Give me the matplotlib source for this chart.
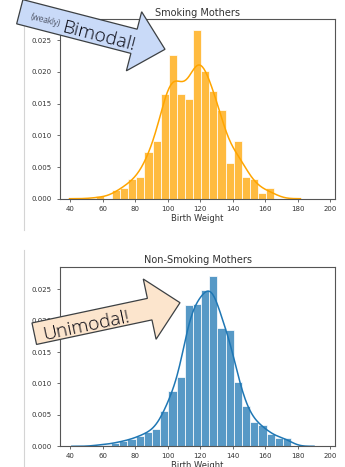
import numpy as np
import matplotlib
matplotlib.use('Agg')
import matplotlib.pyplot as plt
from matplotlib.patches import Polygon
from matplotlib.lines import Line2D
from matplotlib.transforms import Affine2D

# Birth weight histograms: first bin edge, bin width and counts per bin
smoke_start = 55.6
smoke_width = 5.0
smoke_counts = [1, 0, 3, 4, 7, 8, 17, 21, 38, 52, 38, 36, 61, 46, 39, 32,
                13, 21, 8, 7, 2, 4]

nonsmoke_start = 55.0
nonsmoke_width = 5.04
nonsmoke_counts = [1, 1, 2, 3, 4, 6, 8, 10, 20, 32, 40, 81, 82, 90, 98, 68,
                   67, 37, 23, 14, 12, 7, 5, 5]

titles = ['Smoking Mothers', 'Non-Smoking Mothers']
colors = ['orange', '#1f77b4']
xticks = [40, 60, 80, 100, 120, 140, 160, 180, 200]
yticks = [0.000, 0.005, 0.010, 0.015, 0.020, 0.025]

W, H, DPI = 345, 467, 100
fig = plt.figure(figsize=(W / DPI, H / DPI), dpi=DPI)
# pixel coordinates measured from the top-left corner
pix = Affine2D().scale(1 / DPI, -1 / DPI).translate(0, H / DPI) + fig.dpi_scale_trans


def kde_curve(edges, counts):
    centers = (edges[:-1] + edges[1:]) / 2
    w = np.asarray(counts, float)
    n = w.sum()
    mean = np.average(centers, weights=w)
    std = np.sqrt(np.average((centers - mean) ** 2, weights=w))
    bw = std * n ** (-1 / 5)
    xs = np.linspace(edges[0] - 3 * bw, edges[-1] + 3 * bw, 300)
    k = np.exp(-0.5 * ((xs[None, :] - centers[:, None]) / bw) ** 2)
    ys = (w[:, None] * k).sum(0) / (n * bw * np.sqrt(2 * np.pi))
    return xs, ys


def block_arrow(tip, angle, length, body_w, head_w, head_len):
    a = np.deg2rad(angle)
    d = np.array([np.cos(a), np.sin(a)])
    nrm = np.array([-d[1], d[0]])
    tip = np.array(tip, float)
    base = tip - d * head_len
    tail = tip - d * length
    return np.array([tail + nrm * body_w / 2, base + nrm * body_w / 2,
                     base + nrm * head_w / 2, tip,
                     base - nrm * head_w / 2, base - nrm * body_w / 2,
                     tail - nrm * body_w / 2])


panels = [
    (smoke_start, smoke_width, smoke_counts, 0.02835, [60.3 / W, 1 - 198.7 / H]),
    (nonsmoke_start, nonsmoke_width, nonsmoke_counts, 0.0286, [60.3 / W, 1 - 446.3 / H]),
]

for i, (start, width, counts, ytop, (left, bottom)) in enumerate(panels):
    ax = fig.add_axes([left, bottom, 274.7 / W, 179.7 / H])
    edges = start + width * np.arange(len(counts) + 1)
    centers = (edges[:-1] + edges[1:]) / 2
    ax.hist(centers, bins=edges, weights=counts, density=True,
            color=colors[i], alpha=0.75, edgecolor='white', linewidth=0.7)
    xs, ys = kde_curve(edges, counts)
    ax.plot(xs, ys, color=colors[i], lw=1.1)

    ax.set_xlim(33.8, 203)
    ax.set_ylim(0, ytop)
    ax.set_xticks(xticks)
    ax.set_yticks(yticks)
    ax.set_yticklabels([f'{v:.3f}' for v in yticks])
    ax.tick_params(labelsize=5, length=2.5, width=0.6, color='#555555',
                   labelcolor='#333333')
    ax.tick_params(axis='x', pad=2.5)
    ax.tick_params(axis='y', pad=3.5)
    for s in ax.spines.values():
        s.set_color('#555555')
        s.set_linewidth(0.8)
    ax.set_title(titles[i], fontsize=7, color='#333333', pad=2.5)
    ax.set_xlabel('Birth Weight', fontsize=6, color='#333333', labelpad=1.5)

# notebook cell borders on the left
fig.add_artist(Line2D([23.5, 23.5], [0, 230], transform=pix,
                      color='#d4d4d4', lw=0.8))
fig.add_artist(Line2D([23.5, 23.5], [250, 467], transform=pix,
                      color='#d4d4d4', lw=0.8))

# callout arrows
top_arrow = Polygon(block_arrow((165, 49.3), 14.5, 150, 25, 61, 32),
                    closed=True, transform=pix, facecolor='#c9daf8',
                    edgecolor='#3c4043', lw=0.9, zorder=10)
fig.add_artist(top_arrow)
bottom_arrow = Polygon(block_arrow((180, 302.7), -12, 149, 22, 61.6, 31),
                       closed=True, transform=pix, facecolor='#fce5cd',
                       edgecolor='#3c4043', lw=0.9, zorder=10)
fig.add_artist(bottom_arrow)

txt = dict(transform=pix, ha='center', va='center', rotation_mode='anchor',
           color='#05050f', family=['Open Sans', 'DejaVu Sans'], weight=300,
           zorder=11)
fig.text(45, 20.3, '(weakly)', fontsize=6.2, rotation=-14.5, **txt)
fig.text(98.3, 36.7, 'Bimodal!', fontsize=13.8, rotation=-14.5, **txt)
fig.text(86.7, 325.7, 'Unimodal!', fontsize=13.8, rotation=12, **txt)

fig.savefig('out.png', dpi=DPI)
